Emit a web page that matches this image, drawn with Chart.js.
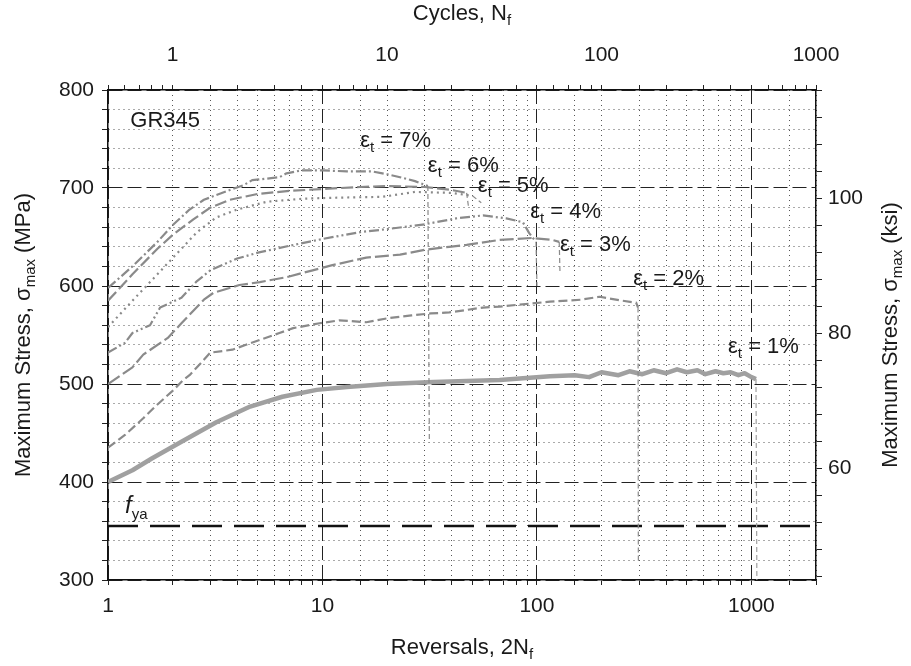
<!DOCTYPE html>
<html>
<head>
<meta charset="utf-8">
<script src="https://cdn.jsdelivr.net/npm/chart.js@4.4.1/dist/chart.umd.min.js"></script>
<style>
  html, body { margin: 0; padding: 0; background: #fff; }
  canvas { display: block; }
</style>
</head>
<body>
<canvas id="stress-chart" width="911" height="666"></canvas>
<script>
// strain amplitudes, largest first
const strainLabels = ['7%', '6%', '5%', '4%', '3%', '2%', '1%'];

// reversals (2Nf) and maximum stress (MPa)
const rev7 = [1, 1.3, 1.7, 2.0, 2.4, 2.8, 3.7, 4.3, 4.7, 6.3, 6.8, 8, 10, 13, 17, 20, 23, 27, 31, 31.5];
const sig7 = [598, 620, 645, 662, 678, 688, 698, 703, 708, 711, 715, 718, 718, 717, 717, 714, 711, 707, 702, 440];

const rev6 = [1, 1.3, 1.7, 2.0, 2.5, 3, 3.7, 5, 7, 10, 15, 20, 30, 40, 47, 48];
const sig6 = [585, 612, 638, 652, 668, 680, 688, 694, 697, 699, 701, 702, 701, 698, 695, 680];

const rev5 = [1, 1.3, 1.7, 2.2, 2.6, 3.2, 4, 5.5, 8, 11, 19, 27, 40, 50, 55];
const sig5 = [558, 585, 612, 638, 655, 670, 678, 686, 689, 690, 691, 696, 695, 692, 685];

const rev4 = [1, 1.2, 1.3, 1.57, 1.75, 2.2, 2.6, 3.0, 4, 5, 7, 10, 15, 20, 30, 42, 56, 72, 86, 92, 99, 100];
const sig4 = [532, 542, 552, 560, 578, 588, 605, 616, 628, 634, 641, 648, 655, 658, 663, 669, 672, 669, 665, 654, 645, 600];

const rev3 = [1, 1.3, 1.46, 1.9, 2.2, 2.8, 3.1, 4.1, 5.1, 6.8, 9, 11, 16, 23, 30, 39, 47, 67, 95, 118, 127, 128];
const sig3 = [500, 517, 530, 547, 562, 586, 593, 601, 604, 609, 616, 621, 629, 632, 637, 640, 642, 647, 649, 647, 645, 615];

const rev2 = [1, 1.2, 1.46, 1.66, 2.0, 2.24, 2.4, 2.7, 3.0, 3.8, 4.4, 6.3, 7.3, 9.7, 12, 16, 20, 26, 32, 39, 56, 67, 115, 160, 196, 250, 290, 296, 297];
const sig2 = [435, 448, 465, 477, 493, 504, 509, 521, 532, 535, 540, 552, 557, 562, 565, 563, 567, 570, 572, 573, 578, 579, 584, 586, 589, 585, 583, 578, 320];

const rev1 = [1, 1.3, 1.6, 2.2, 3.2, 4.6, 6.5, 9.4, 13, 20, 33, 67, 115, 150, 175, 200, 240, 270, 310, 350, 400, 450, 500, 560, 610, 680, 740, 800, 870, 930, 1000, 1050, 1060];
const sig1 = [400, 412, 424, 441, 461, 477, 487, 494, 497, 500, 502, 504, 508, 509, 507, 512, 509, 513, 510, 514, 511, 515, 512, 514, 510, 513, 511, 512, 509, 511, 507, 505, 300];

// actual yield stress of the steel
const fyaMPa = 355;
const mpaPerKsi = 6.895;

// tick labels
const revTickLabels = [1, 10, 100, 1000];
const cycleTickLabels = [1, 10, 100, 1000];
const mpaTickLabels = [300, 400, 500, 600, 700, 800];
const ksiTickLabels = [60, 80, 100];
const ksiTicks = [44, 48, 52, 56, 60, 64, 68, 72, 76, 80, 84, 88, 92, 96, 100, 104, 108, 112, 116];

const FONT = "'Liberation Sans', Arial, sans-serif";
const INK = '#1a1a1a';

const curveRev = [rev7, rev6, rev5, rev4, rev3, rev2, rev1];
const curveSig = [sig7, sig6, sig5, sig4, sig3, sig2, sig1];
const curveDash = [[10, 3, 2, 3], [12, 4], [2, 4], [10, 3, 2, 3, 2, 3], [14, 4], [9, 4], []];

const datasets = strainLabels.map(function(lab, i) {
    const xs = curveRev[i];
    const ys = curveSig[i];
    const last = xs.length - 1;
    return {
        label: '\u03b5t = ' + lab,
        data: xs.map((x, k) => ({ x: x, y: ys[k] })),
        borderColor: i === 6 ? '#a0a0a0' : '#8a8a8a',
        borderWidth: i === 6 ? 4.5 : 2.2,
        borderDash: curveDash[i],
        borderJoinStyle: 'round',
        pointRadius: 0,
        tension: 0,
        segment: {
            // drop at failure drawn thin and dashed
            borderDash: ctx => ctx.p1DataIndex === last ? [5, 3] : undefined,
            borderWidth: ctx => ctx.p1DataIndex === last ? 1.2 : undefined
        }
    };
});

datasets.push({
    label: 'fya',
    data: [{ x: 1, y: fyaMPa }, { x: 2000, y: fyaMPa }],
    borderColor: '#111',
    borderWidth: 2.5,
    borderDash: [30, 12],
    pointRadius: 0
});

function isDecade(v) {
    const l = Math.log10(v);
    return Math.abs(l - Math.round(l)) < 1e-9;
}

function drawRich(ctx, parts, x, y, align, rot) {
    ctx.save();
    ctx.translate(x, y);
    if (rot) ctx.rotate(rot);
    let w = 0;
    parts.forEach(p => { ctx.font = p.font; w += ctx.measureText(p.t).width; });
    let cx = align === 'center' ? -w / 2 : (align === 'right' ? -w : 0);
    ctx.textAlign = 'left';
    ctx.textBaseline = 'alphabetic';
    ctx.fillStyle = INK;
    parts.forEach(p => {
        ctx.font = p.font;
        ctx.fillText(p.t, cx, p.dy || 0);
        cx += ctx.measureText(p.t).width;
    });
    ctx.restore();
}

// label anchors given in data coordinates (reversals, MPa)
const strainLabelSpots = [[15, 742], [31, 716], [53, 696], [93, 669], [128, 636], [281, 601], [778, 532]];

const textPlugin = {
    id: 'richText',
    afterDraw(chart) {
        const { ctx, chartArea, scales } = chart;
        const big = '22px ' + FONT;
        const sub = '15px ' + FONT;
        const midX = (chartArea.left + chartArea.right) / 2;
        const midY = (chartArea.top + chartArea.bottom) / 2;

        drawRich(ctx, [{ t: 'Cycles, N', font: big }, { t: 'f', font: sub, dy: 5 }], midX, 20, 'center');
        drawRich(ctx, [{ t: 'Reversals, 2N', font: big }, { t: 'f', font: sub, dy: 5 }], midX, 654, 'center');
        drawRich(ctx, [{ t: 'Maximum Stress, \u03c3', font: big }, { t: 'max', font: sub, dy: 5 }, { t: ' (MPa)', font: big }],
            30, midY, 'center', -Math.PI / 2);
        drawRich(ctx, [{ t: 'Maximum Stress, \u03c3', font: big }, { t: 'max', font: sub, dy: 5 }, { t: ' (ksi)', font: big }],
            897, midY, 'center', -Math.PI / 2);

        const x = scales.x, y = scales.y;
        strainLabels.forEach(function(lab, i) {
            const p = strainLabelSpots[i];
            drawRich(ctx, [{ t: '\u03b5', font: big }, { t: 't', font: sub, dy: 5 }, { t: ' = ' + lab, font: big }],
                x.getPixelForValue(p[0]), y.getPixelForValue(p[1]), 'left');
        });
        drawRich(ctx, [{ t: 'GR345', font: big }], x.getPixelForValue(1.27), y.getPixelForValue(762), 'left');
        drawRich(ctx, [{ t: 'f', font: 'italic 24px ' + FONT }, { t: 'ya', font: sub, dy: 6 }],
            x.getPixelForValue(1.2), y.getPixelForValue(368), 'left');
    }
};

const tickFont = { family: FONT, size: 21 };

new Chart(document.getElementById('stress-chart').getContext('2d'), {
    type: 'line',
    data: { datasets: datasets },
    options: {
        responsive: false,
        animation: false,
        devicePixelRatio: 1,
        layout: { padding: 0 },
        plugins: { legend: { display: false }, tooltip: { enabled: false } },
        scales: {
            x: {
                type: 'logarithmic',
                position: 'bottom',
                min: 1,
                max: 2000,
                afterFit: s => { s.height = 86; },
                ticks: {
                    autoSkip: false, maxRotation: 0, color: INK, font: tickFont, padding: 9,
                    callback: v => revTickLabels.includes(v) ? String(v) : ''
                },
                grid: {
                    color: ctx => isDecade(ctx.tick.value) ? '#222' : '#555',
                    lineWidth: 1,
                    tickLength: 5,
                    tickColor: '#222'
                },
                border: {
                    color: '#111', width: 1.5,
                    dash: ctx => ctx.type !== 'tick' ? [] : (isDecade(ctx.tick.value) ? [14, 5] : [1, 4])
                }
            },
            xTop: {
                type: 'logarithmic',
                position: 'top',
                min: 0.5,
                max: 1000,
                afterFit: s => { s.height = 90; },
                ticks: {
                    autoSkip: false, maxRotation: 0, color: INK, font: tickFont, padding: 17,
                    callback: v => cycleTickLabels.includes(v) ? String(v) : ''
                },
                grid: { drawOnChartArea: false, tickLength: 5, tickColor: '#222' },
                border: { color: '#111', width: 1.5 }
            },
            y: {
                type: 'linear',
                position: 'left',
                min: 300,
                max: 800,
                afterFit: s => { s.width = 108; },
                ticks: {
                    stepSize: 20, autoSkip: false, color: INK, font: tickFont, padding: 8,
                    callback: v => mpaTickLabels.includes(v) ? String(v) : ''
                },
                grid: {
                    color: ctx => ctx.tick.value % 100 === 0 ? '#222' : '#555',
                    lineWidth: 1,
                    tickLength: 6,
                    tickColor: '#222'
                },
                border: {
                    color: '#111', width: 1.5,
                    dash: ctx => ctx.type !== 'tick' ? [] : (ctx.tick.value % 100 === 0 ? [14, 5] : [1, 4])
                }
            },
            yKsi: {
                type: 'linear',
                position: 'right',
                min: 300 / mpaPerKsi,
                max: 800 / mpaPerKsi,
                afterFit: s => { s.width = 95; },
                afterBuildTicks: s => { s.ticks = ksiTicks.map(v => ({ value: v })); },
                ticks: {
                    autoSkip: false, color: INK, font: tickFont, padding: 6,
                    callback: v => ksiTickLabels.includes(v) ? String(v) : ''
                },
                grid: { drawOnChartArea: false, tickLength: 6, tickColor: '#222' },
                border: { color: '#111', width: 1.5 }
            }
        }
    },
    plugins: [textPlugin]
});
</script>
</body>
</html>
